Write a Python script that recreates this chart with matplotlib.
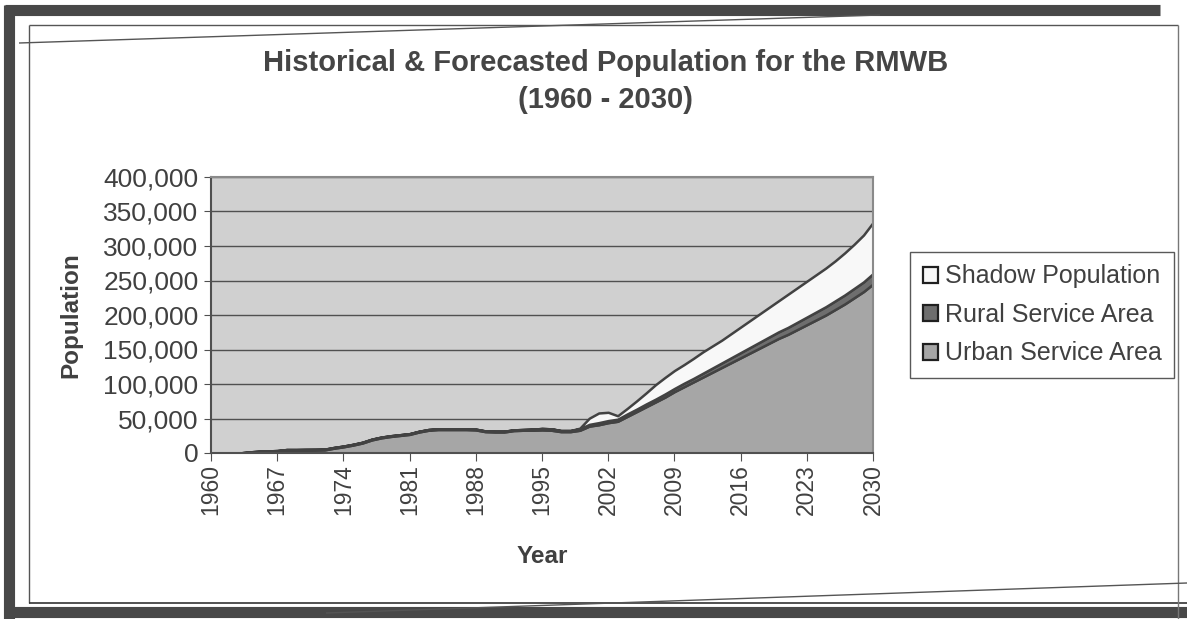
import matplotlib
matplotlib.use("Agg")
import matplotlib.pyplot as plt
from matplotlib.lines import Line2D
from matplotlib.patches import Patch

years = list(range(1960, 2031))

urban = [0, 0, 0, 0, 500, 1000, 1200, 1500, 3500, 4000,
         4200, 4300, 4500, 7000, 9000, 11500, 14500, 19000, 22000, 24000,
         25500, 27000, 30500, 33000, 34000, 34000, 34000, 34000, 33500, 31000,
         30500, 30500, 32500, 33000, 33000, 33500, 33000, 31000, 31000, 33000,
         39000, 41000, 44000, 46000, 53000, 60000, 67000, 74000, 81000, 89000,
         96000, 103000, 110000, 117000, 124000, 131000, 138000, 145000, 152000, 159000,
         166000, 172000, 179000, 186000, 193000, 200000, 208000, 216000, 225000, 234000,
         245000]

rural = [0, 0, 0, 0, 1000, 1500, 1800, 2000, 1500, 1000,
         1000, 1000, 1000, 1000, 1000, 1000, 1000, 1000, 1000, 1000,
         1000, 1000, 1000, 1000, 1000, 1000, 1000, 1000, 1000, 1000,
         1000, 1000, 1000, 1000, 1500, 2000, 2000, 1500, 1500, 2000,
         2500, 3000, 3000, 3000, 3500, 3500, 4000, 4000, 4500, 4500,
         5000, 5000, 5500, 6000, 6500, 7000, 7500, 8000, 8500, 9000,
         9500, 10000, 10500, 11000, 11500, 12000, 12500, 13000, 13500, 14000,
         15000]

shadow = [0, 0, 0, 0, 0, 0, 0, 0, 0, 0,
          0, 0, 0, 0, 0, 0, 0, 0, 0, 0,
          0, 0, 0, 0, 0, 0, 0, 0, 0, 0,
          0, 0, 0, 0, 0, 0, 0, 0, 0, 1000,
          9000, 14000, 12000, 5000, 8000, 12000, 16000, 21000, 24000, 26000,
          27000, 29000, 31000, 32000, 33000, 35000, 37000, 39000, 41000, 43000,
          45000, 48000, 50000, 52000, 54000, 56000, 58000, 61000, 64000, 68000,
          74000]

series_labels = ["Urban Service Area", "Rural Service Area", "Shadow Population"]
x_ticks = list(range(1960, 2031, 7))
y_ticks = list(range(0, 400001, 50000))

W, H = 1187, 619
fig = plt.figure(figsize=(W / 100, H / 100), dpi=100)
plt.rcParams['font.family'] = ['Liberation Sans', 'DejaVu Sans']
txt = '#404040'

def fx(px):
    return px / W

def fy(py):
    return 1 - py / H

ax = fig.add_axes([fx(211), fy(453), fx(873) - fx(211), fy(177) - fy(453)])
ax.set_facecolor('#d0d0d0')

colors = ['#a6a6a6', '#6e6e6e', '#f8f8f8']
ax.stackplot(years, urban, rural, shadow, colors=colors,
             edgecolor='#424242', linewidth=1.8, zorder=3)

ax.set_xlim(1960, 2030)
ax.set_ylim(0, 400000)
ax.set_yticks(y_ticks)
ax.set_yticklabels([f"{v:,}" for v in y_ticks])
ax.set_xticks(x_ticks)
ax.set_xticklabels([str(v) for v in x_ticks], rotation=90)
ax.tick_params(axis='y', labelsize=19, colors='#505050', labelcolor=txt, length=5, pad=4)
ax.tick_params(axis='x', labelsize=16.5, colors='#505050', labelcolor=txt, length=6, pad=2)
ax.grid(axis='y', color='#505050', linewidth=1.0, zorder=1)
ax.set_axisbelow(True)
for s in ['top', 'right']:
    ax.spines[s].set_color('#8a8a8a')
    ax.spines[s].set_linewidth(1.5)
    ax.spines[s].set_zorder(4)
for s in ['left', 'bottom']:
    ax.spines[s].set_color('#505050')
    ax.spines[s].set_linewidth(1.5)
    ax.spines[s].set_zorder(4)

ax.set_ylabel("Population", fontsize=17.5, fontweight='bold', color=txt)
ax.yaxis.set_label_coords(-0.195, 0.5)
ax.set_xlabel("Year", fontsize=17.5, fontweight='bold', color=txt)
ax.xaxis.set_label_coords(0.5, -0.335)

fig.text(fx(606), fy(63), "Historical & Forecasted Population for the RMWB",
         ha='center', va='center', fontsize=21, fontweight='bold', color='#454545')
fig.text(fx(606), fy(100), "(1960 - 2030)",
         ha='center', va='center', fontsize=21, fontweight='bold', color='#454545')

handles = [Patch(facecolor=colors[2], edgecolor='#202020', linewidth=1.6),
           Patch(facecolor=colors[1], edgecolor='#202020', linewidth=1.6),
           Patch(facecolor=colors[0], edgecolor='#202020', linewidth=1.6)]
leg = fig.legend(handles, [series_labels[2], series_labels[1], series_labels[0]],
                 loc='upper left', bbox_to_anchor=(fx(910), fy(252)),
                 fontsize=18, frameon=True, fancybox=False, edgecolor='#303030',
                 handlelength=0.6, handleheight=0.6, handletextpad=0.3,
                 labelspacing=0.58, borderpad=0.5, borderaxespad=0)
leg.get_frame().set_linewidth(1.0)
for t in leg.get_texts():
    t.set_color(txt)

# Scanned-page frame decorations
def line(x0, y0, x1, y1, lw, c):
    fig.add_artist(Line2D([fx(x0), fx(x1)], [fy(y0), fy(y1)], lw=lw, color=c,
                          solid_capstyle='butt'))

dark = '#484848'
line(5, 10, 1160, 10, 8, dark)
line(9, 5, 9, 619, 8, dark)
line(5, 612, 1187, 612, 8, dark)
line(29, 25, 1178, 25, 1.0, '#555555')
line(29, 25, 29, 603, 1.0, '#555555')
line(29, 603, 1187, 603, 1.2, '#333333')
line(1178, 25, 1178, 619, 1.0, '#777777')
line(19, 43, 880, 15, 1.0, '#555555')
line(326, 613, 1187, 583, 1.0, '#555555')

fig.savefig("out.png", dpi=100)
